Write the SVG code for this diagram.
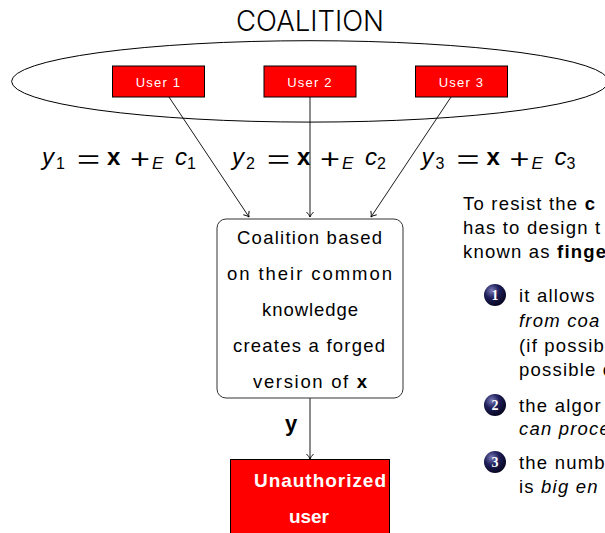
<svg xmlns="http://www.w3.org/2000/svg" width="605" height="533" viewBox="0 0 605 533">
<defs>
<style>
text{font-family:"Liberation Sans","DejaVu Sans",sans-serif;fill:#000}
.user{fill:#ff0000;stroke:#000;stroke-width:1}
.ulab{fill:#fff;font-size:13px;letter-spacing:1.2px;text-anchor:middle}
.eq{font-size:24px}
.sub{font-size:16px}
.op{font-family:Inter,"Liberation Sans",sans-serif;font-weight:300;font-size:30px}
.body{font-size:18.5px;letter-spacing:1.2px}
.conn{stroke:#000;stroke-width:0.9;fill:none}
.ball{fill:url(#ballg)}
.bnum{fill:#fff;font-family:"Liberation Serif",serif;font-size:14px;font-weight:bold;text-anchor:middle}
</style>
<radialGradient id="ballg" cx="0.35" cy="0.3" r="0.75">
<stop offset="0" stop-color="#7a7ab8"/>
<stop offset="0.45" stop-color="#1e1e5a"/>
<stop offset="1" stop-color="#05051c"/>
</radialGradient>
<marker id="arr" markerWidth="10" markerHeight="10" refX="0" refY="0" viewBox="-6 -5 8 10" orient="auto" markerUnits="userSpaceOnUse">
<path d="M-5,-3.5 Q-2,-0.5 0,0 Q-2,0.5 -5,3.5" fill="none" stroke="#000" stroke-width="0.9"/>
</marker>
</defs>
<rect width="605" height="533" fill="#fff"/>
<text x="310" y="31" font-size="28" text-anchor="middle" textLength="148" lengthAdjust="spacingAndGlyphs" style="font-family:Inter,'Liberation Sans',sans-serif;font-weight:300">COALITION</text>
<ellipse cx="310" cy="81.4" rx="298.4" ry="40.7" fill="none" stroke="#000" stroke-width="1"/>
<g id="connectors">
<line class="conn" x1="169" y1="97" x2="249" y2="217" marker-end="url(#arr)"/>
<line class="conn" x1="310" y1="97" x2="310" y2="217" marker-end="url(#arr)"/>
<line class="conn" x1="451" y1="97" x2="371" y2="217" marker-end="url(#arr)"/>
<line class="conn" x1="310" y1="398" x2="310" y2="459" stroke="#444" marker-end="url(#arr)"/>
</g>
<g id="user1"><rect class="user" x="112.5" y="66" width="92" height="31"/><text class="ulab" x="158.5" y="87">User 1</text></g>
<g id="user2"><rect class="user" x="264" y="66" width="92" height="31"/><text class="ulab" x="310" y="87">User 2</text></g>
<g id="user3"><rect class="user" x="415.5" y="66" width="92" height="31"/><text class="ulab" x="461.5" y="87">User 3</text></g>
<g id="eq1" class="eq">
<text x="42" y="165" font-style="italic">y</text><text class="sub" x="56" y="169">1</text>
<text class="op" x="73" y="168" textLength="31" lengthAdjust="spacingAndGlyphs">=</text>
<text x="107" y="165" font-weight="bold">x</text>
<text class="op" x="128" y="168" font-size="32" textLength="24" lengthAdjust="spacingAndGlyphs">+</text>
<text x="152" y="169" font-size="17" font-style="italic">E</text>
<text x="175" y="165" font-style="italic">c</text><text class="sub" x="187" y="169">1</text>
</g>
<g id="eq2" class="eq" transform="translate(190,0)">
<text x="42" y="165" font-style="italic">y</text><text class="sub" x="56" y="169">2</text>
<text class="op" x="73" y="168" textLength="31" lengthAdjust="spacingAndGlyphs">=</text>
<text x="107" y="165" font-weight="bold">x</text>
<text class="op" x="128" y="168" font-size="32" textLength="24" lengthAdjust="spacingAndGlyphs">+</text>
<text x="152" y="169" font-size="17" font-style="italic">E</text>
<text x="175" y="165" font-style="italic">c</text><text class="sub" x="187" y="169">2</text>
</g>
<g id="eq3" class="eq" transform="translate(379.5,0)">
<text x="42" y="165" font-style="italic">y</text><text class="sub" x="56" y="169">3</text>
<text class="op" x="73" y="168" textLength="31" lengthAdjust="spacingAndGlyphs">=</text>
<text x="107" y="165" font-weight="bold">x</text>
<text class="op" x="128" y="168" font-size="32" textLength="24" lengthAdjust="spacingAndGlyphs">+</text>
<text x="152" y="169" font-size="17" font-style="italic">E</text>
<text x="175" y="165" font-style="italic">c</text><text class="sub" x="187" y="169">3</text>
</g>
<g id="coalition">
<rect x="217" y="219" width="186" height="179" rx="9" fill="#fff" stroke="#333" stroke-width="1"/>
<g font-size="18.5" text-anchor="middle">
<text x="309.5" y="244" textLength="145" lengthAdjust="spacing">Coalition based</text>
<text x="309.5" y="280" textLength="165" lengthAdjust="spacing">on their common</text>
<text x="310" y="316" textLength="96" lengthAdjust="spacing">knowledge</text>
<text x="309" y="352" textLength="152" lengthAdjust="spacing">creates a forged</text>
<text x="310" y="388" textLength="114" lengthAdjust="spacing">version of <tspan font-weight="bold">x</tspan></text>
</g>
</g>
<text x="285" y="431" font-size="22" font-weight="bold">y</text>
<g id="unauthorized">
<rect x="230.5" y="459.5" width="159" height="80" fill="#ff0000" stroke="#000" stroke-width="1"/>
<text x="254" y="487" font-size="19" font-weight="bold" style="fill:#fff" textLength="132" lengthAdjust="spacing">Unauthorized</text>
<text x="289" y="523" font-size="19" font-weight="bold" style="fill:#fff" textLength="40" lengthAdjust="spacing">user</text>
</g>
<g id="explanation" class="body">
<text x="463" y="210">To resist the <tspan font-weight="bold">c</tspan></text>
<text x="463" y="234">has to design t</text>
<text x="463" y="258">known as <tspan font-weight="bold">finge</tspan></text>
<circle class="ball" cx="495" cy="295" r="11"/><text class="bnum" x="495" y="300" style="letter-spacing:0">1</text>
<text x="519" y="302">it allows</text>
<text x="519" y="327" font-style="italic">from coa</text>
<text x="519" y="352">(if possib</text>
<text x="519" y="376">possible c</text>
<circle class="ball" cx="495" cy="405" r="11"/><text class="bnum" x="495" y="410" style="letter-spacing:0">2</text>
<text x="519" y="412">the algor</text>
<text x="519" y="435" font-style="italic">can proce</text>
<circle class="ball" cx="495" cy="462" r="11"/><text class="bnum" x="495" y="467" style="letter-spacing:0">3</text>
<text x="519" y="469">the numb</text>
<text x="519" y="493">is <tspan font-style="italic">big en</tspan></text>
</g>
</svg>
